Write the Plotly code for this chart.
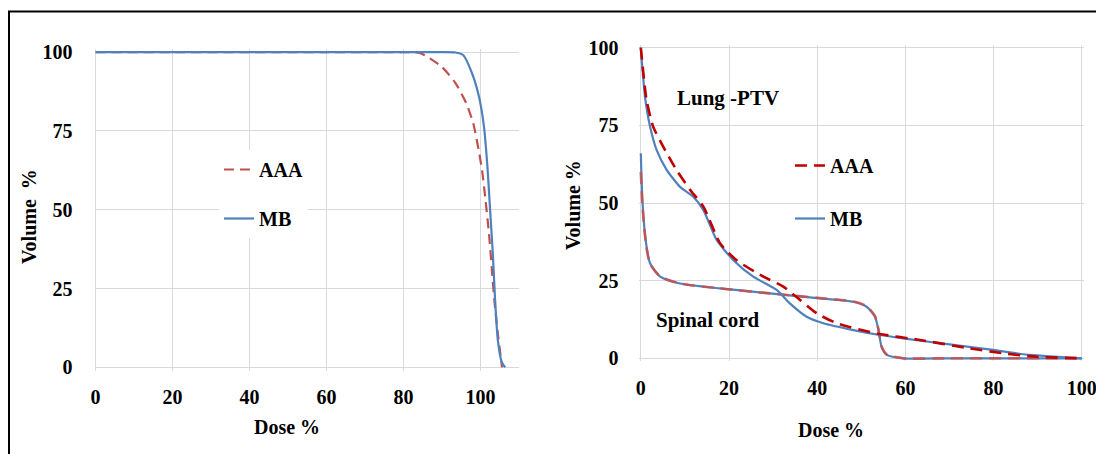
import plotly.graph_objects as go

# The page body adds an 8px offset, so the figure is 8px smaller than the window
OFF = 8
W, H = 1104 - OFF, 454 - OFF

# ---- Left panel (PTV DVH) ----
left_aaa_dose = [0, 20, 40, 60, 75, 82, 84.4, 89.9, 93.5, 96.3, 98.1, 99.2, 100.4, 101.3, 102.2, 102.9, 103.6, 104.5, 105.6]
left_aaa_vol = [100, 100, 100, 100, 100, 100, 99.7, 95.4, 90.2, 83.8, 77.5, 71.1, 62.6, 53.1, 42.5, 31.9, 21.3, 10.8, 0]
left_mb_dose = [0, 20, 40, 60, 80, 90, 93.5, 95.5, 97.8, 99.6, 100.9, 101.8, 102.5, 103.2, 103.8, 104.5, 105.5, 106.4]
left_mb_vol = [100, 100, 100, 100, 100, 100, 99.9, 99.1, 93.3, 85.9, 76.4, 63.7, 49.9, 36.2, 21.3, 8.6, 1.7, 0]

# ---- Right panel (Lung-PTV and Spinal cord DVH) ----
lung_mb_dose = [0, 0.95, 2.1, 3.6, 5.9, 8.9, 11.9, 14.2, 17.2, 21, 25.5, 30.8, 33.8, 37.6, 41.4, 48.2, 54.2, 59.5, 70.9, 79.9, 86, 100]
lung_mb_vol = [100, 84.2, 74.6, 67, 60.6, 55.2, 52, 47.7, 38.1, 31.6, 26.3, 22, 17.7, 13.4, 11.3, 9.1, 7.5, 6.4, 4.3, 2.7, 1.4, 0]
lung_aaa_dose = [0, 1.3, 2.8, 5.1, 8.1, 11.2, 14.2, 18, 21.7, 27.8, 32.3, 36.1, 39.9, 44.4, 53.5, 63.3, 74.6, 82.2, 89.8, 100]
lung_aaa_vol = [100, 83.2, 74.6, 68.1, 60.6, 54.2, 48.8, 37, 31.6, 26.3, 23.1, 18.8, 14.5, 11.3, 8, 5.9, 3.2, 1.6, 0.5, 0]
cord_mb_dose = [0, 0.4, 1.2, 2.1, 4.4, 8.9, 18, 29.3, 40.6, 48.2, 51.2, 53.1, 53.9, 54.6, 55.8, 59.5, 70, 85, 100]
cord_mb_vol = [66, 49.9, 37, 30.6, 26.3, 24.1, 22.5, 20.9, 19.3, 18.2, 16.6, 13.4, 9.1, 3.7, 1.1, 0, 0, 0, 0]
cord_aaa_dose = [0, 0.4, 1.2, 2.1, 4.4, 8.9, 18, 29.3, 40.6, 48.2, 51.2, 53.1, 53.9, 54.6, 55.8, 59.5, 70, 85, 100]
cord_aaa_vol = [60, 48.5, 36.5, 30.4, 26.3, 24.1, 22.5, 20.9, 19.4, 18.3, 16.8, 13.6, 9.2, 3.8, 1.2, 0, 0, 0, 0]

x_ticks_left = [0, 20, 40, 60, 80, 100]
x_ticks_right = [0, 20, 40, 60, 80, 100]
y_ticks = [0, 25, 50, 75, 100]

RED_L = "#c0504d"
RED_C = "rgba(200,80,80,0.85)"
RED_R = "#c00000"
BLUE = "#4f81bd"
GRID = "#d9d9d9"
FONT = "Liberation Serif"


def px_x(p):
    return (p - OFF) / W


def px_y(p):
    return 1 - (p - OFF) / H


fig = go.Figure()

# Left panel traces
fig.add_trace(go.Scatter(x=left_aaa_dose, y=left_aaa_vol, mode="lines", name="AAA",
                         line=dict(color=RED_L, width=2.2, dash="10px,6px", shape="spline", smoothing=0.6),
                         xaxis="x", yaxis="y", legend="legend", legendrank=1, legendgroup="a"))
fig.add_trace(go.Scatter(x=left_mb_dose, y=left_mb_vol, mode="lines", name="MB",
                         line=dict(color=BLUE, width=2.2, shape="spline", smoothing=0.6),
                         xaxis="x", yaxis="y", legend="legend", legendrank=2, legendgroup="b"))

# Right panel traces (MB drawn first, AAA dashes on top)
fig.add_trace(go.Scatter(x=cord_mb_dose, y=cord_mb_vol, mode="lines", name="MB", showlegend=False,
                         line=dict(color=BLUE, width=2.2, shape="spline", smoothing=0.6),
                         xaxis="x2", yaxis="y2"))
fig.add_trace(go.Scatter(x=cord_aaa_dose, y=cord_aaa_vol, mode="lines", name="AAA", showlegend=False,
                         line=dict(color=RED_C, width=2.6, dash="12px,7px", shape="spline", smoothing=0.6),
                         xaxis="x2", yaxis="y2"))
fig.add_trace(go.Scatter(x=lung_mb_dose, y=lung_mb_vol, mode="lines", name="MB",
                         line=dict(color=BLUE, width=2.2, shape="spline", smoothing=0.6),
                         xaxis="x2", yaxis="y2", legend="legend2", legendrank=2, legendgroup="d"))
fig.add_trace(go.Scatter(x=lung_aaa_dose, y=lung_aaa_vol, mode="lines", name="AAA",
                         line=dict(color=RED_R, width=2.6, dash="12px,7px", shape="spline", smoothing=0.6),
                         xaxis="x2", yaxis="y2", legend="legend2", legendrank=1, legendgroup="c"))

tickfont = dict(family=FONT, size=20, color="black", weight="bold")

axis_common = dict(showgrid=True, gridcolor=GRID, gridwidth=1, showline=False,
                   zeroline=True, zerolinecolor=GRID, zerolinewidth=1, automargin=False,
                   tickfont=tickfont, ticks="", fixedrange=True)

legend_font = dict(family=FONT, size=20, color="black", weight="bold")

fig.update_layout(
    template="none",
    width=W, height=H,
    margin=dict(l=0, r=0, t=0, b=0, pad=0, autoexpand=False),
    paper_bgcolor="white", plot_bgcolor="white",
    font=dict(family=FONT, color="black"),
    xaxis=dict(domain=[px_x(95.4), px_x(519)], range=[0, 110], tickvals=x_ticks_left,
               anchor="y", ticklabelstandoff=12, **axis_common),
    yaxis=dict(domain=[px_y(370.5), px_y(49)], range=[-1, 101], tickvals=y_ticks,
               anchor="x", ticklabelstandoff=22, **axis_common),
    xaxis2=dict(domain=[px_x(638.6), px_x(1084)], range=[-0.5, 100.5], tickvals=x_ticks_right,
                anchor="y2", ticklabelstandoff=13, **axis_common),
    yaxis2=dict(domain=[px_y(360.8), px_y(45.2)], range=[-0.8, 100.8], tickvals=y_ticks,
                anchor="x2", ticklabelstandoff=19, **axis_common),
    legend=dict(x=px_x(219), y=px_y(150), xanchor="left", yanchor="top",
                bgcolor="white", borderwidth=0, tracegroupgap=20, traceorder="grouped",
                font=legend_font),
    legend2=dict(x=px_x(790), y=px_y(146), xanchor="left", yanchor="top",
                 bgcolor="rgba(255,255,255,0)", borderwidth=0, tracegroupgap=24, traceorder="grouped",
                 font=legend_font),
    showlegend=True,
)

title_font = dict(family=FONT, size=20, color="black", weight="bold")
label_font = dict(family=FONT, size=21, color="black", weight="bold")
annotations = [
    dict(text="Dose %", x=px_x(287), y=px_y(427), xref="paper", yref="paper", showarrow=False,
         font=title_font, xanchor="center", yanchor="middle"),
    dict(text="Volume  %", x=px_x(29), y=px_y(217), xref="paper", yref="paper", showarrow=False,
         font=title_font, textangle=-90, xanchor="center", yanchor="middle"),
    dict(text="Dose %", x=px_x(831), y=px_y(430), xref="paper", yref="paper", showarrow=False,
         font=title_font, xanchor="center", yanchor="middle"),
    dict(text="Volume %", x=px_x(573), y=px_y(205), xref="paper", yref="paper", showarrow=False,
         font=title_font, textangle=-90, xanchor="center", yanchor="middle"),
    dict(text="Lung -PTV", x=19.8, y=83.8, xref="x2", yref="y2", showarrow=False,
         font=label_font, xanchor="center", yanchor="middle"),
    dict(text="Spinal cord", x=15.2, y=12.3, xref="x2", yref="y2", showarrow=False,
         font=label_font, xanchor="center", yanchor="middle"),
]
fig.update_layout(annotations=annotations)

# white backdrop of the left legend box (hides the gridlines behind it, as in the original)
fig.add_shape(type="rect", xref="paper", yref="paper",
              x0=px_x(190), x1=px_x(344), y0=px_y(242), y1=px_y(147),
              line=dict(width=0), fillcolor="white", layer="between")

# outer frame of the figure image
fig.add_shape(type="rect", xref="paper", yref="paper",
              x0=px_x(9), y0=px_y(470), x1=px_x(1120), y1=px_y(11.5),
              line=dict(color="black", width=2), fillcolor="rgba(0,0,0,0)", layer="above")

fig.write_html("out.html")
